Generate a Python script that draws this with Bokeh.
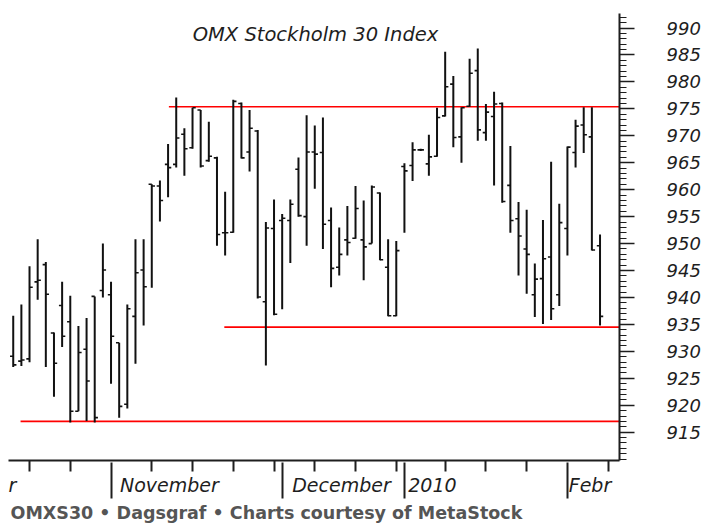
from bokeh.plotting import figure
from bokeh.models import Range1d, LinearAxis, FixedTicker, Label, Title
from bokeh.embed import file_html
from bokeh.resources import INLINE

# ---- data (daily OHLC, one entry per trading day) ----
highs = [936.6, 938.7, 945.8, 950.8, 946.6, 933.5, 942.9, 940.3, 934.7, 936.2,
         940.2, 950.0, 942.9, 931.6, 938.7, 950.8, 950.8, 961.0, 961.7, 968.5,
         977.1, 971.4, 975.2, 974.8, 972.6, 966.1, 959.6, 976.7, 976.2, 974.8,
         971.1, 954.0, 958.2, 955.5, 958.2, 966.0, 973.8, 971.9, 973.4, 956.7,
         953.0, 957.0, 960.7, 958.0, 960.8, 959.5, 950.8, 950.5, 964.9, 968.8,
         967.6, 970.2, 975.2, 985.6, 981.1, 975.3, 984.3, 986.2, 975.9, 978.2,
         976.2, 968.1, 957.7, 956.3, 946.3, 954.4, 965.2, 957.4, 968.0, 973.0,
         975.3, 975.3, 951.7]
lows = [927.1, 927.3, 928.0, 939.6, 927.1, 921.6, 930.8, 916.8, 918.9, 917.1,
        916.8, 940.0, 924.0, 917.7, 919.4, 927.7, 934.8, 941.8, 954.1, 958.6,
        964.1, 962.6, 967.6, 964.1, 965.2, 949.6, 947.8, 952.0, 965.8, 963.4,
        939.8, 927.4, 936.7, 937.8, 946.4, 955.0, 949.6, 960.2, 949.0, 941.9,
        944.1, 947.8, 950.9, 943.2, 950.0, 946.9, 936.5, 936.5, 952.0, 961.6,
        967.2, 962.6, 966.1, 973.6, 967.9, 965.0, 975.4, 969.1, 969.1, 960.8,
        957.6, 952.0, 944.1, 940.7, 936.4, 935.1, 935.8, 938.4, 947.8, 964.1,
        966.8, 948.7, 934.8]
opens = [929.1, 928.2, 928.6, 942.9, 946.1, 933.4, 938.5, 935.5, 918.9, 930.4,
         940.2, 941.3, 940.5, 931.6, 920.2, 936.5, 945.1, 961.0, 960.7, 964.7,
         964.7, 970.3, 967.8, 974.8, 965.4, 965.9, 952.0, 952.1, 976.0, 967.0,
         970.9, 939.2, 952.8, 954.3, 954.3, 963.8, 955.0, 967.0, 966.9, 954.3,
         945.6, 950.7, 951.0, 950.7, 950.0, 959.4, 945.6, 936.6, 964.3, 964.5,
         967.4, 964.8, 966.2, 973.7, 979.6, 969.8, 975.5, 982.1, 970.6, 973.6,
         976.0, 960.8, 954.6, 949.0, 940.5, 943.5, 947.5, 940.5, 952.8, 966.9,
         972.0, 969.8, 949.6]
closes = [927.5, 928.4, 941.9, 943.2, 940.6, 927.8, 932.8, 918.9, 929.8, 924.5,
          917.7, 945.1, 932.8, 919.8, 937.9, 944.6, 942.0, 960.7, 958.0, 964.1,
          969.6, 967.6, 975.2, 964.4, 966.2, 951.7, 952.0, 976.4, 965.9, 971.4,
          940.1, 952.9, 936.9, 954.7, 957.3, 955.2, 967.0, 966.6, 953.6, 945.4,
          948.0, 950.2, 956.5, 949.4, 960.5, 947.0, 936.6, 948.7, 963.5, 967.4,
          967.4, 966.1, 973.4, 979.1, 969.7, 975.2, 981.6, 971.1, 974.4, 975.9,
          957.8, 954.3, 951.4, 948.0, 943.4, 947.2, 937.9, 953.9, 967.9, 971.8,
          970.2, 948.8, 936.5]
days = list(range(len(highs)))

# month boundaries (trading-day index), weekly ticks, and month label positions
month_ticks = [12, 33, 48, 68]
week_ticks = [2, 7, 17, 22, 27, 32, 37, 42, 47, 53, 58, 63, 73]
month_label_pos = [-0.09, 19.17, 40.28, 51.44, 70.77]
month_labels = ["r", "November", "December", "2010", "Febr"]

price_ticks = [915, 920, 925, 930, 935, 940, 945, 950, 955, 960, 965, 970, 975, 980, 985, 990]
price_minor_ticks = list(range(910, 993))

# support / resistance lines
level_values = [975.4, 934.5, 917.0]
level_starts = [19.1, 25.9, 0.9]

title_text = "OMX Stockholm 30 Index"
footer_text = "OMXS30 \u2022 Dagsgraf \u2022 Charts courtesy of MetaStock"

# ---- layout ----
X0, X1 = -0.58, 74.39
Y0, Y1 = 909.75, 992.7
FW, FH = 611, 447
ppx = FW / (X1 - X0)
ppy = FH / (Y1 - Y0)
INK = "#1e1e1e"

p = figure(frame_width=FW, frame_height=FH,
           x_range=Range1d(X0, X1), y_range=Range1d(Y0, Y1),
           x_axis_type=None, y_axis_type=None,
           output_backend="svg", toolbar_location=None,
           min_border_left=8, min_border_top=13, min_border_bottom=0,
           min_border_right=82)
p.outline_line_color = None
p.background_fill_color = "white"
p.border_fill_color = "white"

# axis A: axis line, weekly ticks, month names
xa = LinearAxis(ticker=FixedTicker(ticks=month_label_pos, minor_ticks=week_ticks))
xa.major_label_overrides = {pos: s for pos, s in zip(month_label_pos, month_labels)}
xa.major_tick_out = 0
xa.major_tick_in = 0
xa.minor_tick_out = 11
xa.minor_tick_in = 0
xa.major_label_standoff = 2
xa.major_label_text_font = "DejaVu Sans"
xa.major_label_text_font_style = "italic"
xa.major_label_text_font_size = "19px"
xa.major_label_text_color = INK
xa.axis_line_width = 2
xa.axis_line_color = INK
xa.minor_tick_line_color = INK
xa.minor_tick_line_width = 2
p.add_layout(xa, "below")

# axis B: long month-boundary ticks reaching up to the axis line
xb = LinearAxis(ticker=FixedTicker(ticks=month_ticks))
xb.major_label_overrides = {t: "" for t in month_ticks}
xb.axis_line_color = None
xb.major_tick_in = 36
xb.major_tick_out = 0
xb.minor_tick_line_color = None
xb.major_tick_line_color = INK
xb.major_tick_line_width = 2
xb.major_label_standoff = 0
p.add_layout(xb, "below")

ya = LinearAxis(ticker=FixedTicker(ticks=price_ticks, minor_ticks=price_minor_ticks))
ya.major_tick_out = 15
ya.major_tick_in = 0
ya.minor_tick_out = 7
ya.minor_tick_in = 0
ya.axis_line_width = 2
ya.axis_line_color = INK
ya.major_tick_line_color = INK
ya.minor_tick_line_color = INK
ya.major_tick_line_width = 1.5
ya.minor_tick_line_width = 1.2
ya.major_label_standoff = 32
ya.major_label_text_font = "DejaVu Sans"
ya.major_label_text_font_style = "italic"
ya.major_label_text_font_size = "18px"
ya.major_label_text_color = INK
p.add_layout(ya, "right")

# support / resistance
p.segment(x0=level_starts, y0=level_values, x1=[X1] * len(level_values), y1=level_values,
          line_color="#ff0000", line_width=1.7)

# OHLC bars
tick = 3.2 / ppx
p.segment(x0=days, y0=lows, x1=days, y1=highs, line_color="#111111", line_width=2)
p.segment(x0=[d - tick for d in days], y0=opens, x1=days, y1=opens,
          line_color="#111111", line_width=1.6)
p.segment(x0=days, y0=closes, x1=[d + tick for d in days], y1=closes,
          line_color="#111111", line_width=1.6)

# title inside the frame
p.add_layout(Label(x=X0 + 307 / ppx, y=Y1 - 21 / ppy, text=title_text,
                   text_font="DejaVu Sans", text_font_style="italic",
                   text_font_size="19.5px", text_color=INK,
                   text_align="center", text_baseline="middle"))

# footer
p.add_layout(Title(text=footer_text, align="left", offset=2, standoff=5,
                   text_font="DejaVu Sans", text_font_style="bold",
                   text_font_size="17.5px", text_color="#555555"), "below")

open("out.html", "w").write(file_html(p, INLINE))
